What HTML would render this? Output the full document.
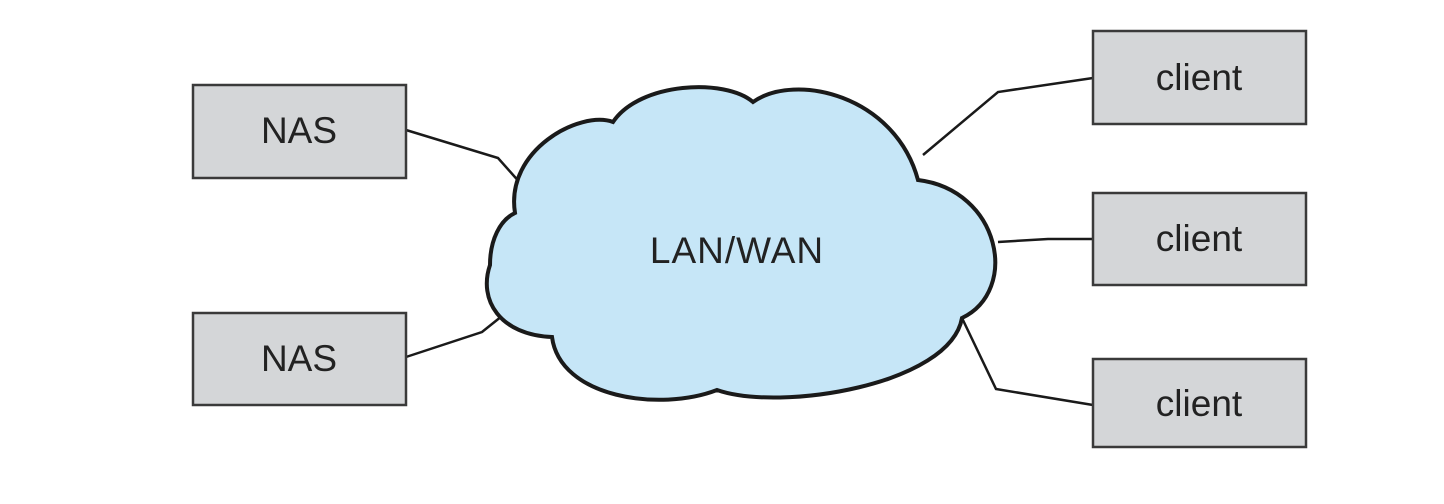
<!DOCTYPE html>
<html><head><style>body{margin:0;background:#fff}svg{display:block}</style></head>
<body>
<svg width="1444" height="504" viewBox="0 0 1444 504" xmlns="http://www.w3.org/2000/svg">
<g stroke="#1a1a1a" stroke-width="2.5" fill="none">
<polyline points="406,130 498,158 522,185"/>
<polyline points="406,357 482,332 507,312"/>
<polyline points="923,155 998,92 1093,78"/>
<polyline points="998,242 1048,239 1093,239"/>
<polyline points="962,318 996,389 1093,405"/>
</g>
<path d="M515,213 C505,150 580,110 613,122 C640,82 725,78 753,102 C795,72 895,95 918,180 C1000,190 1020,290 962,318 C950,385 780,412 717,390 C660,412 560,398 552,337 C500,335 478,300 490,265 C490,240 500,220 515,213 Z" fill="#c6e6f7" stroke="#1a1a1a" stroke-width="4"/>
<g fill="#d4d6d8" stroke="#3a3a3a" stroke-width="2.5">
<rect x="193" y="85" width="213" height="93"/>
<rect x="193" y="313" width="213" height="92"/>
<rect x="1093" y="31" width="213" height="93"/>
<rect x="1093" y="193" width="213" height="92"/>
<rect x="1093" y="359" width="213" height="88"/>
</g>
<g font-family="Liberation Sans, sans-serif" font-size="37" fill="#222" text-anchor="middle">
<text x="299" y="143">NAS</text>
<text x="299" y="371">NAS</text>
<text x="1199" y="90">client</text>
<text x="1199" y="251">client</text>
<text x="1199" y="416">client</text>
<text x="737" y="263" letter-spacing="1">LAN/WAN</text>
</g>
</svg>
</body></html>
